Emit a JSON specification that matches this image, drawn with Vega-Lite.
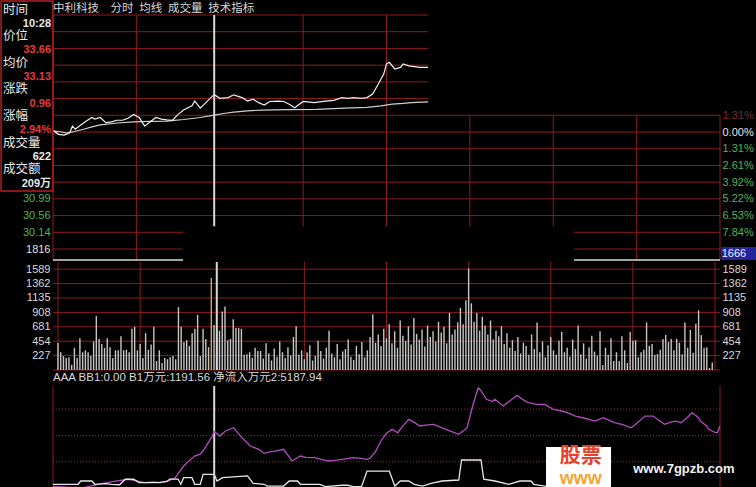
{
  "$schema": "https://vega.github.io/schema/vega-lite/v6.json",
  "background": "black",
  "padding": 0,
  "spacing": 0,
  "config": {
    "view": {"stroke": null},
    "axis": {"labelFont": "Liberation Sans", "labelFontSize": 11, "ticks": false, "domain": false, "grid": false, "labelPadding": 3, "labelColor": "#d8d8d8"}
  },
  "datasets": {
    "pgrid": [
      {"p": 35.6894, "m0": 0, "m1": 135}, {"p": 35.2624, "m0": 0, "m1": 135}, {"p": 34.8353, "m0": 0, "m1": 135},
      {"p": 34.4082, "m0": 0, "m1": 135}, {"p": 33.9812, "m0": 0, "m1": 135}, {"p": 33.5541, "m0": 0, "m1": 135},
      {"p": 33.1271, "m0": 0, "m1": 240}, {"p": 32.70, "m0": 0, "m1": 240}, {"p": 32.2729, "m0": 0, "m1": 240},
      {"p": 31.8459, "m0": 0, "m1": 240}, {"p": 31.4188, "m0": 0, "m1": 240}, {"p": 30.9918, "m0": 0, "m1": 240},
      {"p": 30.5647, "m0": 0, "m1": 240}, {"p": 30.1376, "m0": 0, "m1": 46.8}, {"p": 30.1376, "m0": 187.5, "m1": 240},
      {"p": 29.7106, "m0": 0, "m1": 46.8}, {"p": 29.7106, "m0": 187.5, "m1": 240}
    ],
    "pvgrid": [
      {"m": 0, "p0": 35.6894, "p1": 29.43}, {"m": 30, "p0": 35.6894, "p1": 29.43},
      {"m": 90, "p0": 35.6894, "p1": 30.29}, {"m": 120, "p0": 35.6894, "p1": 30.29},
      {"m": 150, "p0": 33.1271, "p1": 30.29}, {"m": 180, "p0": 33.1271, "p1": 30.29},
      {"m": 210, "p0": 33.1271, "p1": 29.43}, {"m": 240, "p0": 33.1271, "p1": 29.43}
    ],
    "pwhite": [{"p": 29.43, "m0": 0, "m1": 46.8}, {"p": 29.43, "m0": 187.5, "m1": 240}],
    "price": [
      {"m": 0, "p": 32.74}, {"m": 2, "p": 32.64}, {"m": 4, "p": 32.62}, {"m": 6, "p": 32.68}, {"m": 7, "p": 32.85},
      {"m": 8, "p": 32.77}, {"m": 10, "p": 32.88}, {"m": 12, "p": 32.98}, {"m": 14, "p": 33.07}, {"m": 15, "p": 33.03},
      {"m": 17, "p": 33.07}, {"m": 19, "p": 32.94}, {"m": 21, "p": 32.96}, {"m": 23, "p": 33.0}, {"m": 25, "p": 33.0},
      {"m": 27, "p": 33.05}, {"m": 29, "p": 33.15}, {"m": 31, "p": 33.07}, {"m": 33, "p": 32.85}, {"m": 35, "p": 32.96},
      {"m": 37, "p": 33.07}, {"m": 39, "p": 33.03}, {"m": 41, "p": 33.01}, {"m": 43, "p": 33.0}, {"m": 45, "p": 33.15},
      {"m": 47, "p": 33.26}, {"m": 50, "p": 33.37}, {"m": 51, "p": 33.49}, {"m": 53, "p": 33.31}, {"m": 55, "p": 33.45},
      {"m": 58, "p": 33.66}, {"m": 60, "p": 33.56}, {"m": 63, "p": 33.58}, {"m": 65, "p": 33.65}, {"m": 68, "p": 33.58},
      {"m": 70, "p": 33.49}, {"m": 72, "p": 33.54}, {"m": 74, "p": 33.45}, {"m": 76, "p": 33.39}, {"m": 78, "p": 33.48},
      {"m": 81, "p": 33.49}, {"m": 83, "p": 33.48}, {"m": 85, "p": 33.41}, {"m": 87, "p": 33.32}, {"m": 90, "p": 33.48},
      {"m": 94, "p": 33.45}, {"m": 98, "p": 33.49}, {"m": 101, "p": 33.51}, {"m": 104, "p": 33.58}, {"m": 106, "p": 33.56},
      {"m": 108, "p": 33.58}, {"m": 111, "p": 33.56}, {"m": 113, "p": 33.58}, {"m": 115, "p": 33.67}, {"m": 117, "p": 33.92},
      {"m": 119, "p": 34.18}, {"m": 120, "p": 34.44}, {"m": 121, "p": 34.48}, {"m": 123, "p": 34.31}, {"m": 125, "p": 34.35},
      {"m": 126, "p": 34.44}, {"m": 128, "p": 34.39}, {"m": 130, "p": 34.37}, {"m": 132, "p": 34.35}, {"m": 135, "p": 34.35}
    ],
    "avg": [
      {"m": 0, "p": 32.73}, {"m": 3, "p": 32.7}, {"m": 5, "p": 32.67}, {"m": 8, "p": 32.72}, {"m": 11, "p": 32.77},
      {"m": 14, "p": 32.83}, {"m": 17, "p": 32.88}, {"m": 23, "p": 32.93}, {"m": 29, "p": 32.96}, {"m": 35, "p": 32.97},
      {"m": 41, "p": 32.98}, {"m": 47, "p": 33.02}, {"m": 53, "p": 33.07}, {"m": 58, "p": 33.13}, {"m": 62, "p": 33.18},
      {"m": 65, "p": 33.21}, {"m": 70, "p": 33.24}, {"m": 75, "p": 33.26}, {"m": 85, "p": 33.27}, {"m": 95, "p": 33.28},
      {"m": 105, "p": 33.31}, {"m": 113, "p": 33.33}, {"m": 118, "p": 33.37}, {"m": 122, "p": 33.41}, {"m": 126, "p": 33.43},
      {"m": 129, "p": 33.45}, {"m": 135, "p": 33.47}
    ],
    "info": [
      {"row": 0, "col": 0, "t": "时间", "k": "label"}, {"row": 1, "col": 1, "t": "10:28", "k": "plain"},
      {"row": 2, "col": 0, "t": "价位", "k": "label"}, {"row": 3, "col": 1, "t": "33.66", "k": "up"},
      {"row": 4, "col": 0, "t": "均价", "k": "label"}, {"row": 5, "col": 1, "t": "33.13", "k": "up"},
      {"row": 6, "col": 0, "t": "涨跌", "k": "label"}, {"row": 7, "col": 1, "t": "0.96", "k": "up"},
      {"row": 8, "col": 0, "t": "涨幅", "k": "label"}, {"row": 9, "col": 1, "t": "2.94%", "k": "up"},
      {"row": 10, "col": 0, "t": "成交量", "k": "label"}, {"row": 11, "col": 1, "t": "622", "k": "plain"},
      {"row": 12, "col": 0, "t": "成交额", "k": "label"}, {"row": 13, "col": 1, "t": "209万", "k": "plain"}
    ],
    "vgridh": [{"v": 0}, {"v": 227}, {"v": 454}, {"v": 681}, {"v": 908}, {"v": 1135}, {"v": 1362}, {"v": 1589}],
    "vgridv": [{"m": 0}, {"m": 30}, {"m": 90}, {"m": 120}, {"m": 150}, {"m": 180}, {"m": 210}, {"m": 240}],
    "vol": [
      {"m":0,"v":425},{"m":1,"v":280},{"m":2,"v":220},{"m":3,"v":190},{"m":4,"v":200},{"m":5,"v":80},{"m":6,"v":350},{"m":7,"v":190},{"m":8,"v":500},{"m":9,"v":280},
      {"m":10,"v":310},{"m":11,"v":280},{"m":12,"v":220},{"m":13,"v":450},{"m":14,"v":850},{"m":15,"v":490},{"m":16,"v":410},{"m":17,"v":350},{"m":18,"v":500},{"m":19,"v":360},
      {"m":20,"v":190},{"m":21,"v":310},{"m":22,"v":310},{"m":23,"v":530},{"m":24,"v":310},{"m":25,"v":320},{"m":26,"v":280},{"m":27,"v":650},{"m":28,"v":680},{"m":29,"v":310},
      {"m":30,"v":410},{"m":31,"v":190},{"m":32,"v":580},{"m":33,"v":320},{"m":34,"v":400},{"m":35,"v":680},{"m":36,"v":140},{"m":37,"v":310},{"m":38,"v":110},{"m":39,"v":190},
      {"m":40,"v":170},{"m":41,"v":200},{"m":42,"v":220},{"m":43,"v":170},{"m":44,"v":990},{"m":45,"v":680},{"m":46,"v":440},{"m":47,"v":470},{"m":48,"v":380},{"m":49,"v":580},
      {"m":50,"v":650},{"m":51,"v":870},{"m":52,"v":220},{"m":53,"v":650},{"m":54,"v":490},{"m":55,"v":360},{"m":56,"v":1450},{"m":57,"v":710},{"m":58,"v":630},{"m":59,"v":620},
      {"m":60,"v":920},{"m":61,"v":1000},{"m":62,"v":470},{"m":63,"v":490},{"m":64,"v":800},{"m":65,"v":660},{"m":66,"v":660},{"m":67,"v":650},{"m":68,"v":240},{"m":69,"v":250},
      {"m":70,"v":280},{"m":71,"v":190},{"m":72,"v":350},{"m":73,"v":300},{"m":74,"v":300},{"m":75,"v":180},{"m":76,"v":420},{"m":77,"v":260},{"m":78,"v":150},{"m":79,"v":340},
      {"m":80,"v":210},{"m":81,"v":450},{"m":82,"v":280},{"m":83,"v":190},{"m":84,"v":360},{"m":85,"v":230},{"m":86,"v":520},{"m":87,"v":690},{"m":88,"v":240},{"m":89,"v":310},
      {"m":90,"v":170},{"m":91,"v":280},{"m":92,"v":390},{"m":93,"v":150},{"m":94,"v":220},{"m":95,"v":460},{"m":96,"v":300},{"m":97,"v":180},{"m":98,"v":350},{"m":99,"v":620},
      {"m":100,"v":260},{"m":101,"v":200},{"m":102,"v":410},{"m":103,"v":170},{"m":104,"v":290},{"m":105,"v":330},{"m":106,"v":480},{"m":107,"v":210},{"m":108,"v":160},{"m":109,"v":380},
      {"m":110,"v":250},{"m":111,"v":440},{"m":112,"v":200},{"m":113,"v":310},{"m":114,"v":520},{"m":115,"v":880},{"m":116,"v":430},{"m":117,"v":560},{"m":118,"v":380},{"m":119,"v":650},
      {"m":120,"v":500},{"m":121,"v":720},{"m":122,"v":420},{"m":123,"v":610},{"m":124,"v":350},{"m":125,"v":780},{"m":126,"v":540},{"m":127,"v":460},{"m":128,"v":690},{"m":129,"v":400},
      {"m":130,"v":820},{"m":131,"v":570},{"m":132,"v":480},{"m":133,"v":640},{"m":134,"v":370},{"m":135,"v":700},{"m":136,"v":520},{"m":137,"v":610},{"m":138,"v":450},{"m":139,"v":760},
      {"m":140,"v":590},{"m":141,"v":680},{"m":142,"v":420},{"m":143,"v":900},{"m":144,"v":560},{"m":145,"v":640},{"m":146,"v":750},{"m":147,"v":980},{"m":148,"v":720},{"m":149,"v":1100},
      {"m":150,"v":1600},{"m":151,"v":1050},{"m":152,"v":760},{"m":153,"v":900},{"m":154,"v":620},{"m":155,"v":840},{"m":156,"v":700},{"m":157,"v":560},{"m":158,"v":780},{"m":159,"v":480},
      {"m":160,"v":620},{"m":161,"v":530},{"m":162,"v":690},{"m":163,"v":410},{"m":164,"v":580},{"m":165,"v":350},{"m":166,"v":470},{"m":167,"v":300},{"m":168,"v":520},{"m":169,"v":260},
      {"m":170,"v":430},{"m":171,"v":380},{"m":172,"v":240},{"m":173,"v":560},{"m":174,"v":330},{"m":175,"v":750},{"m":176,"v":280},{"m":177,"v":450},{"m":178,"v":200},{"m":179,"v":390},
      {"m":180,"v":520},{"m":181,"v":310},{"m":182,"v":240},{"m":183,"v":460},{"m":184,"v":600},{"m":185,"v":280},{"m":186,"v":350},{"m":187,"v":210},{"m":188,"v":480},{"m":189,"v":330},
      {"m":190,"v":700},{"m":191,"v":250},{"m":192,"v":420},{"m":193,"v":180},{"m":194,"v":360},{"m":195,"v":540},{"m":196,"v":290},{"m":197,"v":230},{"m":198,"v":610},{"m":199,"v":80},
      {"m":200,"v":350},{"m":201,"v":240},{"m":202,"v":500},{"m":203,"v":140},{"m":204,"v":280},{"m":205,"v":140},{"m":206,"v":530},{"m":207,"v":310},{"m":208,"v":110},{"m":209,"v":600},
      {"m":210,"v":460},{"m":211,"v":470},{"m":212,"v":200},{"m":213,"v":280},{"m":214,"v":320},{"m":215,"v":750},{"m":216,"v":380},{"m":217,"v":410},{"m":218,"v":240},{"m":219,"v":250},
      {"m":220,"v":320},{"m":221,"v":490},{"m":222,"v":550},{"m":223,"v":440},{"m":224,"v":490},{"m":225,"v":310},{"m":226,"v":490},{"m":227,"v":430},{"m":228,"v":250},{"m":229,"v":750},
      {"m":230,"v":350},{"m":231,"v":630},{"m":232,"v":270},{"m":233,"v":730},{"m":234,"v":940},{"m":235,"v":550},{"m":236,"v":350},{"m":237,"v":360},{"m":238,"v":30},{"m":239,"v":120}
    ],
    "igrid": [{"v": 2404.6}, {"v": 4809.2}, {"v": 7213.8}],
    "flow": [
      {"m":0,"v":150},{"m":5,"v":80},{"m":11,"v":30},{"m":14,"v":200},{"m":17,"v":370},{"m":22,"v":600},{"m":27,"v":800},{"m":30,"v":650},
      {"m":33,"v":490},{"m":36,"v":560},{"m":39,"v":490},{"m":42,"v":700},{"m":44,"v":940},{"m":47,"v":2010},{"m":49,"v":2500},{"m":51,"v":2920},
      {"m":53,"v":3100},{"m":54,"v":3380},{"m":56,"v":4200},{"m":57,"v":4600},{"m":58,"v":5188},{"m":60,"v":4750},{"m":62,"v":5210},{"m":65,"v":5510},
      {"m":66,"v":5200},{"m":68,"v":4600},{"m":71,"v":3840},{"m":74,"v":3540},{"m":76,"v":3170},{"m":78,"v":3300},{"m":80,"v":3380},{"m":83,"v":3540},
      {"m":86,"v":2470},{"m":89,"v":2920},{"m":91,"v":2800},{"m":94,"v":2770},{"m":97,"v":2600},{"m":99,"v":2470},{"m":102,"v":2550},{"m":104,"v":2620},
      {"m":108,"v":2770},{"m":111,"v":2700},{"m":113,"v":2620},{"m":114,"v":2700},{"m":116,"v":3300},{"m":118,"v":4300},{"m":120,"v":5000},{"m":122,"v":5370},
      {"m":124,"v":5050},{"m":126,"v":5700},{"m":128,"v":6280},{"m":130,"v":6000},{"m":132,"v":5670},{"m":134,"v":5750},{"m":137,"v":5820},{"m":140,"v":5500},
      {"m":143,"v":5200},{"m":146,"v":4910},{"m":148,"v":5300},{"m":149,"v":5510},{"m":151,"v":7500},{"m":153,"v":9170},{"m":154,"v":8900},{"m":156,"v":8110},
      {"m":158,"v":7900},{"m":159,"v":8110},{"m":161,"v":7700},{"m":162,"v":7500},{"m":165,"v":8100},{"m":167,"v":8470},{"m":169,"v":8100},{"m":171,"v":7800},
      {"m":174,"v":7650},{"m":177,"v":7650},{"m":180,"v":7190},{"m":183,"v":7040},{"m":185,"v":6900},{"m":188,"v":6580},{"m":191,"v":6400},{"m":195,"v":6120},
      {"m":198,"v":6430},{"m":200,"v":6200},{"m":202,"v":5970},{"m":205,"v":5800},{"m":208,"v":5510},{"m":210,"v":5900},{"m":213,"v":6580},{"m":216,"v":6580},
      {"m":218,"v":6200},{"m":220,"v":5820},{"m":222,"v":6000},{"m":224,"v":6120},{"m":226,"v":5970},{"m":228,"v":6400},{"m":230,"v":6880},{"m":232,"v":6500},
      {"m":233,"v":6120},{"m":235,"v":5700},{"m":236,"v":5370},{"m":238,"v":5100},{"m":239,"v":5050},{"m":240,"v":5670}
    ],
    "b1": [
      {"m":0,"v":340},{"m":9,"v":340},{"m":10,"v":640},{"m":14,"v":640},{"m":15,"v":340},{"m":19,"v":400},{"m":21,"v":340},{"m":24,"v":300},
      {"m":26,"v":800},{"m":29,"v":800},{"m":31,"v":490},{"m":38,"v":490},{"m":41,"v":600},{"m":42,"v":820},{"m":45,"v":820},{"m":46,"v":340},
      {"m":47,"v":940},{"m":50,"v":940},{"m":51,"v":340},{"m":53,"v":340},{"m":54,"v":1250},{"m":58,"v":1250},{"m":59,"v":640},{"m":61,"v":940},
      {"m":70,"v":1100},{"m":72,"v":430},{"m":76,"v":340},{"m":77,"v":180},{"m":83,"v":180},{"m":85,"v":640},{"m":88,"v":640},{"m":89,"v":340},
      {"m":96,"v":340},{"m":98,"v":120},{"m":104,"v":250},{"m":106,"v":250},{"m":108,"v":120},{"m":111,"v":120},{"m":113,"v":1550},{"m":121,"v":1550},
      {"m":123,"v":180},{"m":125,"v":640},{"m":128,"v":640},{"m":130,"v":340},{"m":133,"v":180},{"m":136,"v":430},{"m":140,"v":640},{"m":146,"v":730},
      {"m":147,"v":2560},{"m":154,"v":2560},{"m":155,"v":800},{"m":159,"v":640},{"m":164,"v":340},{"m":168,"v":640},{"m":172,"v":640},{"m":173,"v":340},
      {"m":177,"v":180},{"m":185,"v":180}
    ]
  },
  "vconcat": [
    {
      "width": 667,
      "height": 245,
      "title": {"text": "中利科技\u2003分时\u2002均线\u2002成交量\u2002技术指标", "anchor": "start", "frame": "group", "font": "Noto Sans CJK SC", "fontSize": 11.5, "fontWeight": "normal", "color": "#d8d8d8", "offset": -14},
      "layer": [
        {
          "layer": [
            {
              "data": {"name": "pgrid"},
              "mark": {"type": "rule", "color": "#8c1c1c", "strokeWidth": 1},
              "encoding": {
                "x": {"field": "m0", "type": "quantitative", "scale": {"domain": [0, 240], "nice": false, "zero": false}, "axis": null},
                "x2": {"field": "m1"},
                "y": {"field": "p", "type": "quantitative", "scale": {"domain": [29.43, 35.6894], "nice": false, "zero": false},
                  "axis": {"orient": "left", "title": null, "values": [30.9918, 30.5647, 30.1376, 29.7106],
                    "labelExpr": "datum.value < 30 ? '1816' : format(datum.value, '.2f')",
                    "labelColor": {"condition": {"test": "datum.value < 30", "value": "#e0e0e0"}, "value": "#55b355"}}}
              }
            },
            {
              "data": {"name": "pvgrid"},
              "mark": {"type": "rule", "color": "#8c1c1c", "strokeWidth": 1},
              "encoding": {
                "x": {"field": "m", "type": "quantitative", "scale": {"domain": [0, 240], "nice": false, "zero": false}, "axis": null},
                "y": {"field": "p0", "type": "quantitative", "scale": {"domain": [29.43, 35.6894], "nice": false, "zero": false},
                  "axis": {"orient": "right", "title": null, "labelPadding": 2,
                    "values": [33.1271, 32.70, 32.2729, 31.8459, 31.4188, 30.9918, 30.5647, 30.1376],
                    "labelExpr": "format(abs(datum.value - 32.7) / 32.7 * 100, '.2f') + '%'",
                    "labelColor": {"condition": [{"test": "datum.value > 32.9", "value": "#7a2c2c"}, {"test": "datum.value > 32.6", "value": "#e8e8e8"}], "value": "#55b355"}}},
                "y2": {"field": "p1"}
              }
            },
            {
              "data": {"name": "pwhite"},
              "mark": {"type": "rule", "color": "#d8d8d8", "strokeWidth": 1.5},
              "encoding": {
                "x": {"field": "m0", "type": "quantitative", "scale": {"domain": [0, 240], "nice": false, "zero": false}, "axis": null},
                "x2": {"field": "m1"},
                "y": {"field": "p", "type": "quantitative", "scale": {"domain": [29.43, 35.6894], "nice": false, "zero": false}, "axis": null}
              }
            },
            {
              "data": {"name": "avg"},
              "mark": {"type": "line", "color": "#cfcfcf", "strokeWidth": 1.2},
              "encoding": {
                "x": {"field": "m", "type": "quantitative", "scale": {"domain": [0, 240], "nice": false, "zero": false}, "axis": null},
                "y": {"field": "p", "type": "quantitative", "scale": {"domain": [29.43, 35.6894], "nice": false, "zero": false}, "axis": null}
              }
            },
            {
              "data": {"name": "price"},
              "mark": {"type": "line", "color": "#f0f0f0", "strokeWidth": 1.2},
              "encoding": {
                "x": {"field": "m", "type": "quantitative", "scale": {"domain": [0, 240], "nice": false, "zero": false}, "axis": null},
                "y": {"field": "p", "type": "quantitative", "scale": {"domain": [29.43, 35.6894], "nice": false, "zero": false}, "axis": null}
              }
            },
            {
              "data": {"values": [{"m": 58, "p0": 35.6894, "p1": 30.29}]},
              "mark": {"type": "rule", "color": "#d8d8d8", "strokeWidth": 2},
              "encoding": {
                "x": {"field": "m", "type": "quantitative", "scale": {"domain": [0, 240], "nice": false, "zero": false}, "axis": null},
                "y": {"field": "p0", "type": "quantitative", "scale": {"domain": [29.43, 35.6894], "nice": false, "zero": false}, "axis": null},
                "y2": {"field": "p1"}
              }
            },
            {
              "data": {"values": [{"m0": 240.4, "m1": 253.5, "p0": 29.762, "p1": 29.43}]},
              "mark": {"type": "rect", "color": "#24249c"},
              "encoding": {
                "x": {"field": "m0", "type": "quantitative", "scale": {"domain": [0, 240], "nice": false, "zero": false}, "axis": null},
                "x2": {"field": "m1"},
                "y": {"field": "p0", "type": "quantitative", "scale": {"domain": [29.43, 35.6894], "nice": false, "zero": false}, "axis": null},
                "y2": {"field": "p1"}
              }
            },
            {
              "data": {"values": [{"m": 240.6, "p": 29.596, "t": "1666"}]},
              "mark": {"type": "text", "align": "left", "baseline": "middle", "font": "Liberation Sans", "fontSize": 11, "color": "#f0f0f0"},
              "encoding": {
                "x": {"field": "m", "type": "quantitative", "scale": {"domain": [0, 240], "nice": false, "zero": false}, "axis": null},
                "y": {"field": "p", "type": "quantitative", "scale": {"domain": [29.43, 35.6894], "nice": false, "zero": false}, "axis": null},
                "text": {"field": "t"}
              }
            }
          ],
          "resolve": {"axis": {"y": "independent"}}
        },
        {
          "layer": [
            {
              "data": {"values": [{"x0": -0.04, "x1": 1.04, "y0": -0.6, "y1": 13.67}]},
              "mark": {"type": "rect", "fill": "black", "stroke": "#b81e1e", "strokeWidth": 1.5},
              "encoding": {
                "x": {"field": "x0", "type": "quantitative", "scale": {"domain": [0, 1], "range": [-50, -2], "nice": false, "zero": false}, "axis": null},
                "x2": {"field": "x1"},
                "y": {"field": "y0", "type": "quantitative", "scale": {"domain": [0, 13], "range": [-6, 167], "nice": false, "zero": false}, "axis": null},
                "y2": {"field": "y1"}
              }
            },
            {
              "data": {"name": "info"},
              "transform": [{"filter": "datum.col === 0"}],
              "mark": {"type": "text", "align": "left", "baseline": "middle", "font": "Noto Sans CJK SC", "fontSize": 12.5, "color": "#e8e8e8", "dy": 0.5},
              "encoding": {
                "x": {"field": "col", "type": "quantitative", "scale": {"domain": [0, 1], "range": [-50, -2], "nice": false, "zero": false}, "axis": null},
                "y": {"field": "row", "type": "quantitative", "scale": {"domain": [0, 13], "range": [-6, 167], "nice": false, "zero": false}, "axis": null},
                "text": {"field": "t"}
              }
            },
            {
              "data": {"name": "info"},
              "transform": [{"filter": "datum.col === 1"}],
              "mark": {"type": "text", "align": "right", "baseline": "middle", "font": "Liberation Sans, Noto Sans CJK SC", "fontSize": 11, "fontWeight": "bold", "dy": 1.5},
              "encoding": {
                "x": {"field": "col", "type": "quantitative", "scale": {"domain": [0, 1], "range": [-50, -2], "nice": false, "zero": false}, "axis": null},
                "y": {"field": "row", "type": "quantitative", "scale": {"domain": [0, 13], "range": [-6, 167], "nice": false, "zero": false}, "axis": null},
                "text": {"field": "t"},
                "color": {"condition": {"test": "datum.k === 'up'", "value": "#e23c3c"}, "value": "#e8e8e8"}
              }
            }
          ]
        }
      ],
      "resolve": {"scale": {"x": "independent", "y": "independent"}}
    },
    {
      "width": 667,
      "height": 108,
      "layer": [
        {
          "data": {"name": "vgridh"},
          "mark": {"type": "rule", "color": "#8c1c1c", "strokeWidth": 1},
          "encoding": {
            "y": {"field": "v", "type": "quantitative", "scale": {"domain": [0, 1702], "nice": false, "zero": false},
              "axis": {"orient": "left", "title": null, "format": "d", "values": [227, 454, 681, 908, 1135, 1362, 1589]}}
          }
        },
        {
          "data": {"name": "vgridv"},
          "mark": {"type": "rule", "color": "#8c1c1c", "strokeWidth": 1},
          "encoding": {
            "x": {"field": "m", "type": "quantitative", "scale": {"domain": [0, 240], "nice": false, "zero": false}, "axis": null}
          }
        },
        {
          "data": {"name": "vol"},
          "mark": {"type": "bar", "width": 1.4},
          "encoding": {
            "x": {"field": "m", "type": "quantitative", "scale": {"domain": [0, 240], "nice": false, "zero": false}, "axis": null},
            "y": {"field": "v", "type": "quantitative", "scale": {"domain": [0, 1702], "nice": false, "zero": false},
              "axis": {"orient": "right", "title": null, "format": "d", "labelPadding": 2, "values": [227, 454, 681, 908, 1135, 1362, 1589]}},
            "color": {"condition": {"test": "datum.m === 56", "value": "#d2a45c"}, "value": "#c6c6c6"}
          }
        },
        {
          "data": {"values": [{"m": 58}]},
          "mark": {"type": "rule", "color": "#d8d8d8", "strokeWidth": 2},
          "encoding": {
            "x": {"field": "m", "type": "quantitative", "scale": {"domain": [0, 240], "nice": false, "zero": false}, "axis": null}
          }
        }
      ],
      "resolve": {"axis": {"y": "independent"}}
    },
    {
      "width": 667,
      "height": 107,
      "title": {"text": "AAA BB1:0.00 B1万元:1191.56 净流入万元2:5187.94", "anchor": "start", "frame": "group", "font": "Liberation Sans, Noto Sans CJK SC", "fontSize": 11.5, "fontWeight": "normal", "color": "#d8d8d8", "offset": 2},
      "layer": [
        {
          "data": {"name": "igrid"},
          "mark": {"type": "rule", "color": "#9a2a2a", "strokeDash": [1, 2], "strokeWidth": 1},
          "encoding": {
            "y": {"field": "v", "type": "quantitative", "scale": {"domain": [-457, 9326], "nice": false, "zero": false},
              "axis": {"orient": "right", "title": null, "labelPadding": 3, "values": [7213.8, 4809.2], "format": ".1f"}}
          }
        },
        {
          "data": {"values": [{"v": 0}]},
          "mark": {"type": "rule", "color": "#cfcfcf", "strokeWidth": 1},
          "encoding": {
            "y": {"field": "v", "type": "quantitative", "scale": {"domain": [-457, 9326], "nice": false, "zero": false}, "axis": null}
          }
        },
        {
          "data": {"values": [{"m": 0}, {"m": 240}]},
          "mark": {"type": "rule", "color": "#8c1c1c", "strokeWidth": 1},
          "encoding": {
            "x": {"field": "m", "type": "quantitative", "scale": {"domain": [0, 240], "nice": false, "zero": false}, "axis": null}
          }
        },
        {
          "data": {"values": [{"m": 58}]},
          "mark": {"type": "rule", "color": "#d8d8d8", "strokeWidth": 2},
          "encoding": {
            "x": {"field": "m", "type": "quantitative", "scale": {"domain": [0, 240], "nice": false, "zero": false}, "axis": null}
          }
        },
        {
          "data": {"name": "flow"},
          "mark": {"type": "line", "color": "#b04cbc", "strokeWidth": 1.3},
          "encoding": {
            "x": {"field": "m", "type": "quantitative", "scale": {"domain": [0, 240], "nice": false, "zero": false}, "axis": null},
            "y": {"field": "v", "type": "quantitative", "scale": {"domain": [-457, 9326], "nice": false, "zero": false}, "axis": null}
          }
        },
        {
          "data": {"name": "b1"},
          "mark": {"type": "line", "color": "#e6e6e6", "strokeWidth": 1.3},
          "encoding": {
            "x": {"field": "m", "type": "quantitative", "scale": {"domain": [0, 240], "nice": false, "zero": false}, "axis": null},
            "y": {"field": "v", "type": "quantitative", "scale": {"domain": [-457, 9326], "nice": false, "zero": false}, "axis": null}
          }
        },
        {
          "data": {"values": [{"m0": 177.4, "m1": 200.8, "v0": 3749, "v1": -457}]},
          "mark": {"type": "rect", "color": "#ffffff"},
          "encoding": {
            "x": {"field": "m0", "type": "quantitative", "scale": {"domain": [0, 240], "nice": false, "zero": false}, "axis": null},
            "x2": {"field": "m1"},
            "y": {"field": "v0", "type": "quantitative", "scale": {"domain": [-457, 9326], "nice": false, "zero": false}, "axis": null},
            "y2": {"field": "v1"}
          }
        },
        {
          "data": {"values": [{"m": 182.3, "v": 2900, "t": "股票"}]},
          "mark": {"type": "text", "align": "left", "baseline": "middle", "font": "Noto Sans CJK SC", "fontSize": 21, "fontWeight": "bold", "color": "#e8402a"},
          "encoding": {
            "x": {"field": "m", "type": "quantitative", "scale": {"domain": [0, 240], "nice": false, "zero": false}, "axis": null},
            "y": {"field": "v", "type": "quantitative", "scale": {"domain": [-457, 9326], "nice": false, "zero": false}, "axis": null},
            "text": {"field": "t"}
          }
        },
        {
          "data": {"values": [{"m": 182.3, "v": 850, "t": "www"}]},
          "mark": {"type": "text", "align": "left", "baseline": "middle", "font": "Liberation Sans", "fontSize": 18, "fontWeight": "bold", "color": "#f2a531"},
          "encoding": {
            "x": {"field": "m", "type": "quantitative", "scale": {"domain": [0, 240], "nice": false, "zero": false}, "axis": null},
            "y": {"field": "v", "type": "quantitative", "scale": {"domain": [-457, 9326], "nice": false, "zero": false}, "axis": null},
            "text": {"field": "t"}
          }
        },
        {
          "data": {"values": [{"m": 227, "v": 1765, "t": "www.7gpzb.com"}]},
          "mark": {"type": "text", "align": "center", "baseline": "middle", "font": "Liberation Sans", "fontSize": 13, "fontWeight": "bold", "color": "#f2f2f2"},
          "encoding": {
            "x": {"field": "m", "type": "quantitative", "scale": {"domain": [0, 240], "nice": false, "zero": false}, "axis": null},
            "y": {"field": "v", "type": "quantitative", "scale": {"domain": [-457, 9326], "nice": false, "zero": false}, "axis": null},
            "text": {"field": "t"}
          }
        }
      ]
    }
  ]
}
